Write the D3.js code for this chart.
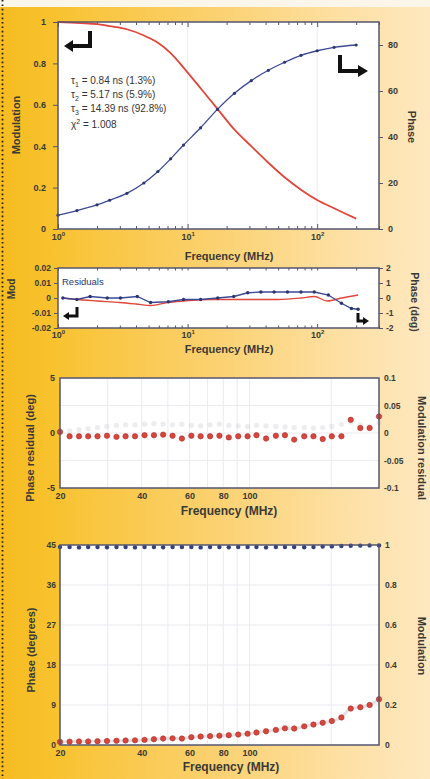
<!DOCTYPE html>
<html><head><meta charset="utf-8">
<script src="https://cdn.jsdelivr.net/npm/d3@7"></script>
<style>
html,body{margin:0;padding:0;background:#fff;}
svg{display:block;}
text{font-family:"Liberation Sans",Arial,sans-serif;}
</style></head><body>
<svg id="c" width="430" height="779"></svg>
<script>
// ---------- DATA ----------
// Panel 1: frequency-domain lifetime fit
const p1PhaseFreq = [1, 1.4, 2, 2.5, 3.4, 4.6, 5.9, 7.4, 9.3, 12.6, 17, 23, 31, 42, 56, 75, 100, 135, 200];
const p1Phase     = [6, 8, 10.5, 12.5, 15.5, 20, 25, 30.5, 36.5, 44, 52, 59, 64.5, 69, 72.5, 75.5, 77.5, 79, 80];
const p1ModFreq   = [1, 1.5, 2, 2.5, 3.4, 4.6, 5.9, 7.4, 9.3, 12.6, 17, 23, 31, 42, 56, 75, 100, 135, 200];
const p1Mod       = [1.0, 0.995, 0.99, 0.98, 0.965, 0.935, 0.9, 0.85, 0.78, 0.68, 0.58, 0.48, 0.40, 0.32, 0.25, 0.19, 0.14, 0.10, 0.05];
const p1LeftTicks  = [0, 0.2, 0.4, 0.6, 0.8, 1];
const p1RightTicks = [0, 20, 40, 60, 80];
const p1XTicks     = [1, 10, 100];
const p1Notes = [["τ","1"," = 0.84 ns (1.3%)","sub"],["τ","2"," = 5.17 ns (5.9%)","sub"],["τ","3"," = 14.39 ns (92.8%)","sub"],["χ","2"," = 1.008","sup"]];

// Panel 2: residuals
const p2PhaseFreq = [1.09, 1.4, 1.77, 2.4, 3.03, 4.09, 5.18, 7.1, 9.3, 12.6, 17.1, 22.7, 29.1, 36.8, 46.5, 59, 75, 95, 122, 154, 184, 207];
const p2Phase     = [0, -0.1, 0.1, 0, 0, 0.1, -0.3, -0.25, -0.1, -0.1, 0, 0.1, 0.35, 0.4, 0.4, 0.4, 0.4, 0.4, 0.2, -0.35, -0.7, -0.75];
const p2ModFreq   = [1.09, 1.4, 2, 3, 4, 5.2, 7, 9.3, 15, 30, 50, 75, 95, 120, 154, 207];
const p2Mod       = [0, -0.001, -0.002, -0.003, -0.004, -0.005, -0.003, -0.002, -0.001, -0.001, -0.001, 0, 0.001, -0.002, 0, 0.002];
const p2LeftTicks  = [-0.02, -0.01, 0, 0.01, 0.02];
const p2RightTicks = [-2, -1, 0, 1, 2];

// Panels 3 & 4: 20-300 MHz measurements
const p34Freq = [20, 21.7, 23.5, 25.4, 27.5, 29.8, 32.3, 34.9, 37.8, 41, 44.4, 48, 52, 56.3, 61, 66, 71.5, 77.4, 83.8, 90.8, 98.3, 106, 115, 125, 135, 146, 159, 172, 186, 201, 218, 236, 256, 277, 300];
const p3PhaseRes = [0.1, -0.3, -0.3, -0.3, -0.3, -0.25, -0.35, -0.3, -0.3, -0.2, -0.2, -0.15, -0.25, -0.5, -0.25, -0.3, -0.3, -0.25, -0.4, -0.3, -0.3, -0.2, -0.5, -0.25, -0.2, -0.6, -0.3, -0.3, -0.55, -0.3, -0.3, 1.2, 0.45, 0.45, 1.5];
const p3ModRes   = [0.005, 0.004, 0.006, 0.008, 0.01, 0.012, 0.014, 0.015, 0.015, 0.016, 0.017, 0.016, 0.015, 0.016, 0.014, 0.013, 0.015, 0.016, 0.014, 0.013, 0.012, 0.014, 0.013, 0.012, 0.011, 0.01, 0.01, 0.009, 0.01, 0.012, 0.016, 0.02, 0.015, 0.012, 0.018];
const p3LeftTicks  = [-5, 0, 5];
const p3RightTicks = [-0.1, -0.05, 0, 0.05, 0.1];
const p34XTicks    = [20, 40, 60, 80, 100];
const p34Grid      = [30, 40, 50, 60, 70, 80, 90, 100, 200];
const p4Phase = [0.7, 0.75, 0.8, 0.8, 0.85, 0.9, 0.95, 1.0, 1.05, 1.15, 1.3, 1.45, 1.5, 1.45, 1.75, 1.9, 2.0, 2.1, 2.2, 2.35, 2.55, 2.8, 3.1, 3.4, 3.75, 3.7, 4.2, 4.6, 5.0, 5.4, 6.2, 8.2, 8.5, 9.0, 10.3];
const p4Mod   = [0.99, 0.99, 0.988, 0.99, 0.99, 0.989, 0.99, 0.99, 0.988, 0.99, 0.99, 0.989, 0.99, 0.99, 0.99, 0.988, 0.99, 0.99, 0.989, 0.99, 0.99, 0.99, 0.988, 0.99, 0.99, 0.99, 0.989, 0.99, 0.992, 0.993, 0.995, 0.996, 0.997, 0.998, 0.998];
const p4LeftTicks  = [0, 9, 18, 27, 36, 45];
const p4RightTicks = [0, 0.2, 0.4, 0.6, 0.8, 1];

// ---------- STYLE ----------
const FONT = '"Liberation Sans",Arial,sans-serif';
const TXT = '#3a3a36';
const FRAME = '#545670';
const RED = '#e0463a';
const BLUE = '#3c4a96';

const W = 430, H = 779;
const svg = d3.select('#c');
const defs = svg.append('defs');
const lg = defs.append('linearGradient').attr('id','bg').attr('x1',0).attr('x2',1).attr('y1',0).attr('y2',0);
[[0,'#f6bc20'],[0.12,'#f8c22e'],[0.5,'#fbd170'],[0.8,'#fde0a4'],[1,'#fee8c0']]
  .forEach(([o,c]) => lg.append('stop').attr('offset',o).attr('stop-color',c));
svg.append('rect').attr('width',W).attr('height',H).attr('fill','url(#bg)');
svg.append('rect').attr('width',W).attr('height',7).attr('fill','#fbf6ea');
svg.append('line').attr('x1',2.5).attr('x2',2.5).attr('y1',0).attr('y2',H)
  .attr('stroke','#222').attr('stroke-width',1.8).attr('stroke-dasharray','1.6 2.8');

function styleAxis(sel, size){
  sel.select('.domain').remove();
  sel.selectAll('line').attr('stroke',FRAME).attr('stroke-width',1);
  sel.selectAll('text').attr('font-size',size||9).attr('font-weight','bold').attr('fill',TXT).attr('font-family',FONT);
}
function plotBg(x0,y0,x1,y1){
  svg.append('rect').attr('x',x0).attr('y',y0).attr('width',x1-x0).attr('height',y1-y0).attr('fill','#fff');
}
function plotFrame(x0,y0,x1,y1){
  svg.append('rect').attr('x',x0).attr('y',y0).attr('width',x1-x0).attr('height',y1-y0)
    .attr('fill','none').attr('stroke',FRAME).attr('stroke-width',1.5);
}
function title(txt,x,y,rot,size){
  svg.append('text').attr('transform',`translate(${x},${y}) rotate(${rot||0})`)
    .attr('text-anchor','middle').attr('dominant-baseline','middle')
    .attr('font-size',size||11).attr('font-weight','bold').attr('fill',TXT).text(txt);
}
function pow10Labels(sel){
  sel.selectAll('.tick text').each(function(d){
    const t = d3.select(this); t.text('');
    t.append('tspan').text('10');
    t.append('tspan').attr('dy',-4).attr('font-size',6).text(Math.round(Math.log10(d)));
  });
}
function arrow(pathD, tip, w){
  svg.append('path').attr('d',pathD).attr('fill','none').attr('stroke','#111').attr('stroke-width',w);
  svg.append('path').attr('d',tip).attr('fill','#111');
}
function minorLog(domain){
  const out=[]; for(let e=Math.floor(Math.log10(domain[0])); e<=Math.ceil(Math.log10(domain[1])); e++){
    for(let k=2;k<=9;k++){ const v=k*Math.pow(10,e); if(v>=domain[0]&&v<=domain[1]) out.push(v);} }
  return out;
}

// ---------- PANEL 1 ----------
{
  const L=58,R=379,T=22,B=229;
  const x = d3.scaleLog().domain([1,300]).range([L,R]);
  const yL = d3.scaleLinear().domain([0,1]).range([B,T]);
  const yR = d3.scaleLinear().domain([0,90]).range([B,T]);
  plotBg(L,T,R,B);
  svg.append('g').selectAll('line').data(p1XTicks.slice(1)).join('line')
    .attr('x1',d=>x(d)).attr('x2',d=>x(d)).attr('y1',T).attr('y2',B).attr('stroke','#ececf2');
  svg.append('g').attr('transform',`translate(0,${B})`).call(d3.axisBottom(x).tickValues(p1XTicks).tickSize(-5).tickPadding(5)).call(styleAxis).call(pow10Labels);
  svg.append('g').attr('transform',`translate(0,${B})`).call(d3.axisBottom(x).tickValues(minorLog([1,300])).tickSize(-3).tickFormat('')).call(styleAxis);
  svg.append('g').attr('transform',`translate(0,${T})`).call(d3.axisTop(x).tickValues(p1XTicks).tickSize(-5).tickFormat('')).call(styleAxis);
  svg.append('g').attr('transform',`translate(0,${T})`).call(d3.axisTop(x).tickValues(minorLog([1,300])).tickSize(-3).tickFormat('')).call(styleAxis);
  svg.append('g').attr('transform',`translate(${L},0)`).call(d3.axisLeft(yL).tickValues(p1LeftTicks).tickSize(5).tickPadding(7).tickFormat(d=>String(d))).call(styleAxis);
  svg.append('g').attr('transform',`translate(${R},0)`).call(d3.axisRight(yR).tickValues(p1RightTicks).tickSize(4).tickPadding(5).tickFormat(d=>String(d))).call(styleAxis);
  svg.append('path').datum(p1ModFreq.map((f,i)=>[f,p1Mod[i]]))
    .attr('d',d3.line().x(d=>x(d[0])).y(d=>yL(d[1])).curve(d3.curveCatmullRom.alpha(0.5)))
    .attr('fill','none').attr('stroke',RED).attr('stroke-width',1.8);
  const ph = p1PhaseFreq.map((f,i)=>[f,p1Phase[i]]);
  svg.append('path').datum(ph).attr('d',d3.line().x(d=>x(d[0])).y(d=>yR(d[1])).curve(d3.curveCatmullRom.alpha(0.5)))
    .attr('fill','none').attr('stroke',BLUE).attr('stroke-width',1.3);
  svg.append('g').selectAll('circle').data(ph).join('circle')
    .attr('cx',d=>x(d[0])).attr('cy',d=>yR(d[1])).attr('r',1.6).attr('fill','#2c3570');
  plotFrame(L,T,R,B);
  p1Notes.forEach((n,i)=>{
    const t = svg.append('text').attr('x',71).attr('y',[84,98,112,128][i]).attr('font-size',10).attr('fill','#333');
    t.append('tspan').text(n[0]);
    t.append('tspan').attr('dy',n[3]==='sub'?3:-4).attr('font-size',7).text(n[1]);
    t.append('tspan').attr('dy',n[3]==='sub'?-3:4).text(n[2]);
  });
  arrow('M90,31 V46 H72','M64,46 L73,40 L73,52 Z',4);
  arrow('M340,55 V71 H358','M368,71 L358,65 L358,77 Z',4);
  title('Modulation',17,125,-90,11);
  title('Phase',411,127,90,11);
  title('Frequency (MHz)',229,257,0,11);
}

// ---------- PANEL 2 ----------
{
  const L=58,R=379,T=268,B=328;
  const x = d3.scaleLog().domain([1,300]).range([L,R]);
  const yL = d3.scaleLinear().domain([-0.02,0.02]).range([B,T]);
  const yR = d3.scaleLinear().domain([-2,2]).range([B,T]);
  plotBg(L,T,R,B);
  svg.append('g').attr('transform',`translate(0,${B})`).call(d3.axisBottom(x).tickValues(p1XTicks).tickSize(-4).tickPadding(4)).call(styleAxis).call(pow10Labels);
  svg.append('g').attr('transform',`translate(0,${B})`).call(d3.axisBottom(x).tickValues(minorLog([1,300])).tickSize(-2.5).tickFormat('')).call(styleAxis);
  svg.append('g').attr('transform',`translate(0,${T})`).call(d3.axisTop(x).tickValues(minorLog([1,300]).concat(p1XTicks)).tickSize(-2.5).tickFormat('')).call(styleAxis);
  svg.append('g').attr('transform',`translate(${L},0)`).call(d3.axisLeft(yL).tickValues(p2LeftTicks).tickSize(4).tickPadding(3).tickFormat(d=>String(d))).call(styleAxis,8.5);
  svg.append('g').attr('transform',`translate(${R},0)`).call(d3.axisRight(yR).tickValues(p2RightTicks).tickSize(4).tickPadding(3).tickFormat(d=>String(d))).call(styleAxis,8.5);
  svg.append('path').datum(p2ModFreq.map((f,i)=>[f,p2Mod[i]]))
    .attr('d',d3.line().x(d=>x(d[0])).y(d=>yL(d[1])).curve(d3.curveMonotoneX))
    .attr('fill','none').attr('stroke',RED).attr('stroke-width',1.4);
  const ph = p2PhaseFreq.map((f,i)=>[f,p2Phase[i]]);
  svg.append('path').datum(ph).attr('d',d3.line().x(d=>x(d[0])).y(d=>yR(d[1])))
    .attr('fill','none').attr('stroke',BLUE).attr('stroke-width',1.3);
  svg.append('g').selectAll('circle').data(ph).join('circle')
    .attr('cx',d=>x(d[0])).attr('cy',d=>yR(d[1])).attr('r',1.7).attr('fill','#2c3570');
  plotFrame(L,T,R,B);
  svg.append('text').attr('x',62).attr('y',285).attr('font-size',9.5).attr('fill','#2c3570').text('Residuals');
  arrow('M77,307 V316 H69','M63,316 L69,312 L69,320 Z',3);
  arrow('M358,313 V321 H363','M369,321 L363,317 L363,325 Z',3);
  title('Mod',12,289,-90,10);
  title('Phase (deg)',414,302,90,10.5);
  title('Frequency (MHz)',229,350,0,11);
}

// ---------- PANEL 3 ----------
{
  const L=60,R=379,T=378,B=488;
  const x = d3.scaleLog().domain([20,300]).range([L,R]);
  const yL = d3.scaleLinear().domain([-5,5]).range([B,T]);
  const yR = d3.scaleLinear().domain([-0.1,0.1]).range([B,T]);
  plotBg(L,T,R,B);
  svg.append('g').selectAll('line').data(p34Grid).join('line')
    .attr('x1',d=>x(d)).attr('x2',d=>x(d)).attr('y1',T).attr('y2',B).attr('stroke','#ebebf1');
  svg.append('g').selectAll('line').data(p3RightTicks.slice(1,-1)).join('line')
    .attr('x1',L).attr('x2',R).attr('y1',d=>yR(d)).attr('y2',d=>yR(d)).attr('stroke','#ebebf1');
  svg.append('g').attr('transform',`translate(0,${B})`).call(d3.axisBottom(x).tickValues(p34XTicks).tickSize(0).tickPadding(5).tickFormat(d=>String(d))).call(styleAxis);
  svg.append('g').attr('transform',`translate(${L},0)`).call(d3.axisLeft(yL).tickValues(p3LeftTicks).tickSize(0).tickPadding(5).tickFormat(d=>String(d))).call(styleAxis);
  svg.append('g').attr('transform',`translate(${R},0)`).call(d3.axisRight(yR).tickValues(p3RightTicks).tickSize(0).tickPadding(5).tickFormat(d=>String(d))).call(styleAxis,8.5);
  svg.append('g').selectAll('circle').data(p34Freq.map((f,i)=>[f,p3ModRes[i]])).join('circle')
    .attr('cx',d=>x(d[0])).attr('cy',d=>yR(d[1])).attr('r',2.6).attr('fill','#b8b8c0').attr('opacity',0.25);
  svg.append('g').selectAll('circle.r').data(p34Freq.map((f,i)=>[f,p3PhaseRes[i]])).join('circle')
    .attr('cx',d=>x(d[0])).attr('cy',d=>yL(d[1])).attr('r',2.7).attr('fill','#d9453b').attr('stroke','#a8332c').attr('stroke-width',0.6);
  plotFrame(L,T,R,B);
  title('Phase residual (deg)',31,448,-90,11);
  title('Modulation residual',421,448,90,11);
  title('Frequency (MHz)',229,512,0,12);
}

// ---------- PANEL 4 ----------
{
  const L=60,R=379,T=545,B=745;
  const x = d3.scaleLog().domain([20,300]).range([L,R]);
  const yL = d3.scaleLinear().domain([0,45]).range([B,T]);
  const yR = d3.scaleLinear().domain([0,1]).range([B,T]);
  plotBg(L,T,R,B);
  svg.append('g').selectAll('line').data(p34Grid).join('line')
    .attr('x1',d=>x(d)).attr('x2',d=>x(d)).attr('y1',T).attr('y2',B).attr('stroke','#ebebf1');
  svg.append('g').selectAll('line').data(p4LeftTicks.slice(1,-1)).join('line')
    .attr('x1',L).attr('x2',R).attr('y1',d=>yL(d)).attr('y2',d=>yL(d)).attr('stroke','#ebebf1');
  svg.append('g').attr('transform',`translate(0,${B})`).call(d3.axisBottom(x).tickValues(p34XTicks).tickSize(0).tickPadding(5).tickFormat(d=>String(d))).call(styleAxis);
  svg.append('g').attr('transform',`translate(${L},0)`).call(d3.axisLeft(yL).tickValues(p4LeftTicks).tickSize(0).tickPadding(4).tickFormat(d=>String(d))).call(styleAxis,8.5);
  svg.append('g').attr('transform',`translate(${R},0)`).call(d3.axisRight(yR).tickValues(p4RightTicks).tickSize(0).tickPadding(6).tickFormat(d=>String(d))).call(styleAxis,8.5);
  const ph = p34Freq.map((f,i)=>[f,p4Phase[i]]);
  svg.append('path').datum(ph).attr('d',d3.line().x(d=>x(d[0])).y(d=>yL(d[1])).curve(d3.curveMonotoneX))
    .attr('fill','none').attr('stroke','#c8c8cc').attr('stroke-width',3).attr('opacity',0.5);
  svg.append('g').selectAll('circle').data(ph).join('circle')
    .attr('cx',d=>x(d[0])).attr('cy',d=>yL(d[1])).attr('r',2.7).attr('fill','#d9453b').attr('stroke','#a8332c').attr('stroke-width',0.6);
  svg.append('g').selectAll('circle').data(p34Freq.map((f,i)=>[f,p4Mod[i]])).join('circle')
    .attr('cx',d=>x(d[0])).attr('cy',d=>yR(d[1])).attr('r',2.2).attr('fill','#33407a');
  plotFrame(L,T,R,B);
  title('Phase (degrees)',32,650,-90,11);
  title('Modulation',421,646,90,11);
  title('Frequency (MHz)',231,768,0,12);
}
</script>
</body></html>
